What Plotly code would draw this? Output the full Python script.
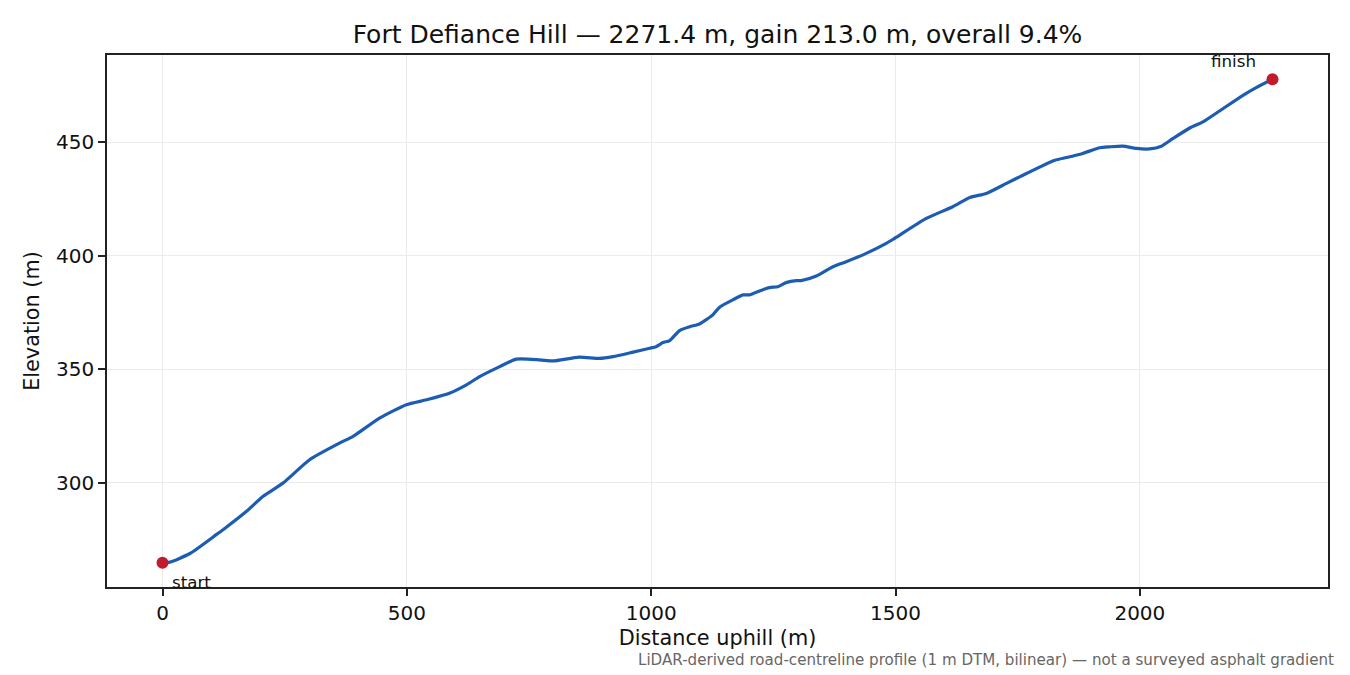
import plotly.graph_objects as go

# Elevation profile (distance m, elevation m)
distance = [0, 15, 56, 110, 124, 172, 206, 247, 301, 363, 390, 445, 499, 540,
            587, 622, 649, 690, 724, 772, 799, 853, 894, 922, 963, 997, 1010,
            1024, 1038, 1058, 1079, 1099, 1126, 1140, 1167, 1188, 1201, 1215,
            1242, 1259, 1276, 1297, 1307, 1338, 1372, 1399, 1440, 1481, 1495,
            1563, 1617, 1652, 1686, 1727, 1754, 1826, 1850, 1883, 1918, 1938,
            1965, 1993, 2020, 2044, 2068, 2102, 2129, 2163, 2211, 2238, 2271.4]
elevation = [264.7, 265.0, 268.8, 277.1, 279.3, 287.4, 294.0, 299.9, 310.1,
             317.5, 320.4, 328.5, 334.3, 336.5, 339.4, 343.1, 346.7, 351.1,
             354.4, 354.1, 353.6, 355.3, 354.7, 355.5, 357.5, 359.2, 359.9,
             361.7, 362.6, 367.0, 368.7, 369.9, 373.9, 377.3, 380.5, 382.7,
             382.7, 383.9, 385.9, 386.3, 388.1, 389.0, 389.0, 391.0, 395.1,
             397.3, 401.0, 405.4, 407.2, 416.4, 421.5, 425.6, 427.4, 431.8,
             434.7, 442.0, 443.2, 445.0, 447.5, 447.9, 448.2, 447.2, 447.0,
             448.2, 451.6, 456.2, 458.9, 463.7, 470.6, 474.0, 477.7]

title = "Fort Defiance Hill — 2271.4 m, gain 213.0 m, overall 9.4%"
note = "LiDAR-derived road-centreline profile (1 m DTM, bilinear) — not a surveyed asphalt gradient"

font = "DejaVu Sans"

fig = go.Figure()
fig.add_trace(go.Scatter(x=distance, y=elevation, mode="lines",
                         line=dict(color="#1c5db3", width=3.2, shape="spline", smoothing=0.6),
                         hoverinfo="skip", showlegend=False))
fig.add_trace(go.Scatter(x=[distance[0], distance[-1]],
                         y=[elevation[0], elevation[-1]], mode="markers",
                         marker=dict(color="#c21b2b", size=12),
                         showlegend=False))

# 5% padding like matplotlib
dx = (distance[-1] - distance[0]) * 0.05
dy = (max(elevation) - min(elevation)) * 0.05

axis_style = dict(showline=True, linecolor="#222", linewidth=1.7, mirror=True,
                  ticks="outside", ticklen=7, tickwidth=1.6, tickcolor="#222",
                  showgrid=True, gridcolor="#ebebeb", gridwidth=1.4,
                  zeroline=False, tickfont=dict(size=20, color="#111"))

# the page body adds 8 px, margins are trimmed to compensate
fig.update_layout(
    width=1350, height=675,
    paper_bgcolor="white", plot_bgcolor="white",
    font=dict(family=font, color="#111"),
    margin=dict(l=99, r=30, t=47, b=96),
    title=dict(text=title, x=0.5, xref="paper", xanchor="center",
               y=0.9615, yanchor="middle",
               font=dict(size=25, color="#111")),
    xaxis=dict(range=[distance[0] - dx, distance[-1] + dx],
               tickvals=[0, 500, 1000, 1500, 2000],
               title=dict(text="Distance uphill (m)", font=dict(size=20.8), standoff=7),
               **axis_style),
    yaxis=dict(range=[min(elevation) - dy, max(elevation) + dy],
               tickvals=[300, 350, 400, 450],
               title=dict(text="Elevation (m)", font=dict(size=20.8), standoff=11),
               **axis_style),
    annotations=[
        dict(x=distance[0], y=elevation[0], text="start", showarrow=False,
             xanchor="left", yanchor="middle", xshift=7, yshift=-19,
             font=dict(size=16.7, color="#111")),
        dict(x=distance[-1], y=elevation[-1], text="finish", showarrow=False,
             xanchor="right", yanchor="middle", xshift=-15, yshift=18,
             font=dict(size=16.7, color="#111")),
        dict(x=1.0066, y=-0.137, xref="paper", yref="paper", text=note,
             showarrow=False, xanchor="right", yanchor="middle",
             font=dict(size=15.1, color="#666")),
    ],
)

fig.write_html("out.html")
